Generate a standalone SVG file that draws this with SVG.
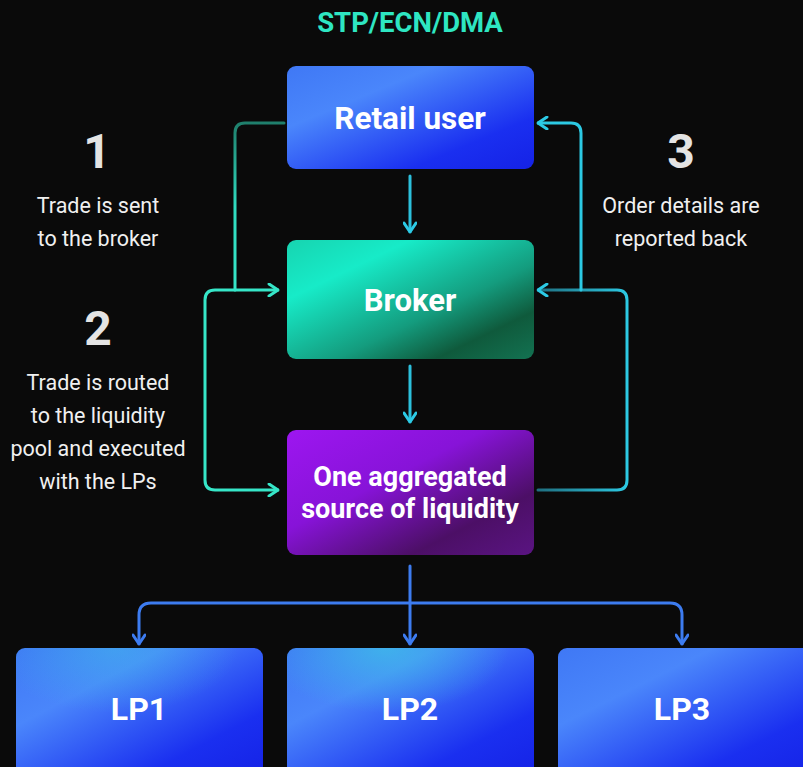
<svg xmlns="http://www.w3.org/2000/svg" width="803" height="767" viewBox="0 0 803 767">
  <defs>
    <linearGradient id="gBlue" x1="0" y1="0" x2="1" y2="1">
      <stop offset="0" stop-color="#3f78f5"/>
      <stop offset="0.3" stop-color="#4a86fb"/>
      <stop offset="0.75" stop-color="#1a2ff0"/>
      <stop offset="1" stop-color="#1522e6"/>
    </linearGradient>
    <linearGradient id="gGreen" x1="0" y1="0" x2="1" y2="1">
      <stop offset="0" stop-color="#17d4b0"/>
      <stop offset="0.25" stop-color="#17ebc8"/>
      <stop offset="0.6" stop-color="#149c7e"/>
      <stop offset="0.8" stop-color="#0f5a3c"/>
      <stop offset="1" stop-color="#137252"/>
    </linearGradient>
    <linearGradient id="gPurple" x1="0" y1="0" x2="1" y2="1">
      <stop offset="0" stop-color="#9d16f0"/>
      <stop offset="0.4" stop-color="#8713d8"/>
      <stop offset="0.75" stop-color="#4c0f66"/>
      <stop offset="1" stop-color="#5a1482"/>
    </linearGradient>
    <radialGradient id="gLpGlow" cx="0.4" cy="0" r="0.5">
      <stop offset="0" stop-color="#3cc3e6" stop-opacity="0.9"/>
      <stop offset="1" stop-color="#3cc3e6" stop-opacity="0"/>
    </radialGradient>
    <linearGradient id="gLeft" x1="0" y1="0" x2="0" y2="1">
      <stop offset="0" stop-color="#1f7f6c"/>
      <stop offset="0.5" stop-color="#2fdcc0"/>
      <stop offset="1" stop-color="#36e6c8"/>
    </linearGradient>
    <linearGradient id="gRight" x1="0" y1="0" x2="1" y2="0">
      <stop offset="0" stop-color="#1f6f80"/>
      <stop offset="1" stop-color="#2cc9e3"/>
    </linearGradient>
    <marker id="arrTeal" viewBox="0 0 12 14" refX="11" refY="7" markerWidth="12" markerHeight="14" markerUnits="userSpaceOnUse" orient="auto">
      <path d="M2 1 L11 7 L2 13" fill="none" stroke="#36e6c8" stroke-width="3" stroke-linecap="round" stroke-linejoin="round"/>
    </marker>
    <marker id="arrCyan" viewBox="0 0 12 14" refX="11" refY="7" markerWidth="12" markerHeight="14" markerUnits="userSpaceOnUse" orient="auto">
      <path d="M2 1 L11 7 L2 13" fill="none" stroke="#2ccbe6" stroke-width="3" stroke-linecap="round" stroke-linejoin="round"/>
    </marker>
    <marker id="arrBlue" viewBox="0 0 12 14" refX="11" refY="7" markerWidth="12" markerHeight="14" markerUnits="userSpaceOnUse" orient="auto">
      <path d="M2 1 L11 7 L2 13" fill="none" stroke="#3d7cf0" stroke-width="3" stroke-linecap="round" stroke-linejoin="round"/>
    </marker>
  </defs>
  <style>
    .box-label { font-family: Roboto, "Liberation Sans", sans-serif; font-weight: 700; fill: #ffffff; text-anchor: middle; }
    .step-num { font-family: Roboto, "Liberation Sans", sans-serif; font-weight: 700; font-size: 48px; fill: #e4e4e4; text-anchor: middle; }
    .step-text { font-family: Roboto, "Liberation Sans", sans-serif; font-size: 21.5px; fill: #f0f0f0; text-anchor: middle; }
    .title { font-family: Roboto, "Liberation Sans", sans-serif; font-weight: 700; font-size: 27.5px; fill: #2ee6c2; text-anchor: middle; }
    .link { fill: none; stroke-width: 3; stroke-linecap: round; stroke-linejoin: round; }
  </style>

  <rect width="803" height="767" fill="#0a0a0a"/>

  <text class="title" x="410" y="32">STP/ECN/DMA</text>

  <!-- step captions -->
  <g id="step1">
    <text class="step-num" x="97" y="168">1</text>
    <text class="step-text" x="98" y="213">Trade is sent</text>
    <text class="step-text" x="98" y="246">to the broker</text>
  </g>
  <g id="step2">
    <text class="step-num" x="98" y="345">2</text>
    <text class="step-text" x="98" y="390">Trade is routed</text>
    <text class="step-text" x="98" y="423">to the liquidity</text>
    <text class="step-text" x="98" y="456">pool and executed</text>
    <text class="step-text" x="98" y="489">with the LPs</text>
  </g>
  <g id="step3">
    <text class="step-num" x="681" y="168">3</text>
    <text class="step-text" x="681" y="213">Order details are</text>
    <text class="step-text" x="681" y="246">reported back</text>
  </g>

  <!-- connectors -->
  <g id="connectors">
    <path class="link" d="M410 176 V232" stroke="#2cc0dc" marker-end="url(#arrCyan)"/>
    <path class="link" d="M410 366 V422" stroke="#2cc0dc" marker-end="url(#arrCyan)"/>
    <path class="link" d="M284 123 H245 Q235 123 235 133 V290 H278" stroke="url(#gLeft)" marker-end="url(#arrTeal)"/>
    <path class="link" d="M235 290 H215 Q205 290 205 300 V480 Q205 490 215 490 H278" stroke="#36e6c8" marker-end="url(#arrTeal)"/>
    <path class="link" d="M538 490 H617 Q627 490 627 480 V300 Q627 290 617 290 H538" stroke="url(#gRight)" marker-end="url(#arrCyan)"/>
    <path class="link" d="M581 290 V133 Q581 123 571 123 H538" stroke="#2cc9e3" marker-end="url(#arrCyan)"/>
    <path class="link" d="M410 566 V644" stroke="#3d7cf0" marker-end="url(#arrBlue)"/>
    <path class="link" d="M410 603 H151 Q139 603 139 615 V644" stroke="#3d7cf0" marker-end="url(#arrBlue)"/>
    <path class="link" d="M410 603 H670 Q682 603 682 615 V644" stroke="#3d7cf0" marker-end="url(#arrBlue)"/>
  </g>

  <g id="retail-user">
    <rect x="287" y="66" width="247" height="103" rx="9" fill="url(#gBlue)"/>
    <text class="box-label" x="410" y="129" font-size="31.5">Retail user</text>
  </g>
  <g id="broker">
    <rect x="287" y="240" width="247" height="119" rx="9" fill="url(#gGreen)"/>
    <text class="box-label" x="410" y="311" font-size="31">Broker</text>
  </g>
  <g id="liquidity">
    <rect x="287" y="430" width="247" height="125" rx="9" fill="url(#gPurple)"/>
    <text class="box-label" x="410" y="486" font-size="27">One aggregated</text>
    <text class="box-label" x="410" y="518" font-size="27">source of liquidity</text>
  </g>
  <g id="lp1">
    <rect x="16" y="648" width="247" height="130" rx="9" fill="url(#gBlue)"/>
    <rect x="16" y="648" width="247" height="130" rx="9" fill="url(#gLpGlow)" opacity="0.5"/>
    <text class="box-label" x="139" y="720" font-size="32">LP1</text>
  </g>
  <g id="lp2">
    <rect x="287" y="648" width="247" height="130" rx="9" fill="url(#gBlue)"/>
    <rect x="287" y="648" width="247" height="130" rx="9" fill="url(#gLpGlow)" opacity="0.8"/>
    <text class="box-label" x="410" y="720" font-size="32">LP2</text>
  </g>
  <g id="lp3">
    <rect x="558" y="648" width="260" height="130" rx="9" fill="url(#gBlue)"/>
    <text class="box-label" x="682" y="720" font-size="32">LP3</text>
  </g>
</svg>
